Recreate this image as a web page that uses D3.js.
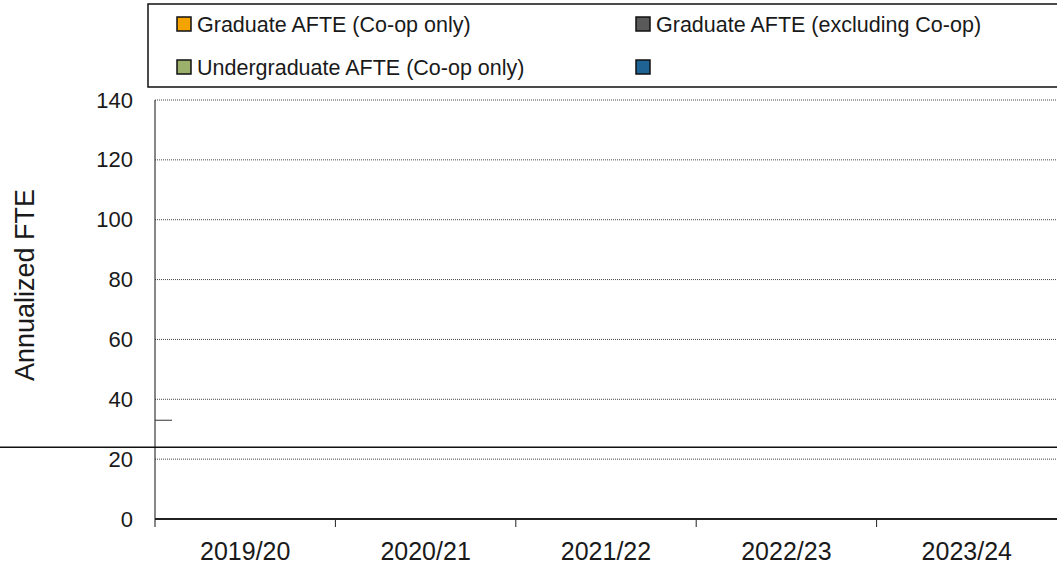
<!doctype html>
<html>
<head>
<meta charset="utf-8">
<script src="https://d3js.org/d3.v7.min.js"></script>
<style>
  body { margin: 0; background: #fff; }
  svg text { font-family: "Liberation Sans", Arial, sans-serif; fill: #1a1a1a; }
</style>
</head>
<body>
<svg id="chart" width="1057" height="571"></svg>
<script>
// chart data
var years = ["2019/20", "2020/21", "2021/22", "2022/23", "2023/24"];
var seriesNames = ["Graduate AFTE (Co-op only)", "Graduate AFTE (excluding Co-op)",
                   "Undergraduate AFTE (Co-op only)", ""];
var seriesColors = ["#f5a300", "#595959", "#9bb06b", "#1f6394"];
var yTicks = [0, 20, 40, 60, 80, 100, 120, 140];
var refLineValue = 24;     // full-width line across the chart
var stubLineValue = 33;    // short stub next to the axis

var svg = d3.select("#chart");
var margin = { left: 155, right: 0, top: 100, bottom: 52 };
var width = +svg.attr("width"), height = +svg.attr("height");

var x = d3.scaleBand().domain(years).range([margin.left, width]);
var y = d3.scaleLinear().domain([0, 140]).range([height - margin.bottom, margin.top]);

// gridlines
svg.append("g")
  .selectAll("line")
  .data(yTicks.filter(function(d) { return d > 0; }))
  .enter().append("line")
  .attr("x1", margin.left).attr("x2", width)
  .attr("y1", function(d) { return y(d); })
  .attr("y2", function(d) { return y(d); })
  .attr("stroke", "#444")
  .attr("stroke-width", 1)
  .attr("stroke-dasharray", "1,1");

// y axis
var yAxis = svg.append("g")
  .attr("transform", "translate(" + margin.left + ",0)")
  .call(d3.axisLeft(y).tickValues(yTicks).tickSize(0).tickPadding(22));
yAxis.select(".domain").attr("stroke", "#111")
  .attr("d", "M0," + y(140) + "V" + (y(0) + 8));
yAxis.selectAll("text").style("font-size", "22px")
  .attr("font-family", "Liberation Sans, Arial, sans-serif");

// x axis
var xAxis = svg.append("g")
  .attr("transform", "translate(0," + y(0) + ")")
  .call(d3.axisBottom(x).tickSize(0).tickPadding(23));
xAxis.select(".domain").attr("stroke", "#222").attr("stroke-width", 2)
  .attr("d", "M" + margin.left + ",0H" + width);
xAxis.selectAll("text").style("font-size", "25px")
  .attr("font-family", "Liberation Sans, Arial, sans-serif");
// category boundary ticks
svg.append("g")
  .selectAll("line")
  .data(years.slice(1))
  .enter().append("line")
  .attr("x1", function(d) { return x(d); })
  .attr("x2", function(d) { return x(d); })
  .attr("y1", y(0)).attr("y2", y(0) + 8)
  .attr("stroke", "#222");

// axis title
svg.append("text")
  .attr("transform", "translate(34,285) rotate(-90)")
  .attr("text-anchor", "middle")
  .style("font-size", "27px")
  .text("Annualized FTE");

// stray lines
svg.append("line")
  .attr("x1", 0).attr("x2", width)
  .attr("y1", y(refLineValue)).attr("y2", y(refLineValue))
  .attr("stroke", "#111").attr("stroke-width", 1.5);
svg.append("line")
  .attr("x1", margin.left).attr("x2", margin.left + 17)
  .attr("y1", y(stubLineValue)).attr("y2", y(stubLineValue))
  .attr("stroke", "#333").attr("stroke-width", 1);

// legend
var legend = svg.append("g");
legend.append("path")
  .attr("d", "M" + width + ",4H148V87H" + width)
  .attr("fill", "none").attr("stroke", "#111").attr("stroke-width", 1.5);
var item = legend.selectAll(".item")
  .data(seriesNames)
  .enter().append("g")
  .attr("class", "item")
  .attr("transform", function(d, i) {
    return "translate(" + (i % 2 === 0 ? 177 : 636) + "," + (i < 2 ? 17 : 60) + ")";
  });
item.append("rect")
  .attr("width", 14).attr("height", 14)
  .attr("fill", function(d, i) { return seriesColors[i]; })
  .attr("stroke", "#111").attr("stroke-width", 1.5);
item.append("text")
  .attr("x", 20).attr("y", 7)
  .attr("dy", "0.35em")
  .style("font-size", "21.5px")
  .text(function(d) { return d; });
</script>
</body>
</html>
